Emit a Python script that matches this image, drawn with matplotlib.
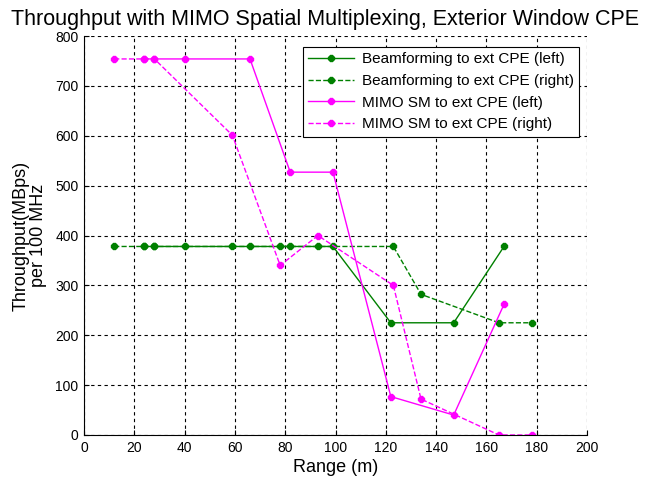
import matplotlib.pyplot as plt

plt.rcParams['font.family'] = ['Liberation Sans', 'DejaVu Sans']

# ranges (m)
x_left = [24, 28, 40, 66, 82, 99, 122, 147, 167]
x_right = [12, 24, 28, 59, 78, 93, 123, 134, 165, 178]

# throughput (MBps per 100 MHz)
bf_left = [378, 378, 378, 378, 378, 378, 225, 225, 378]
bf_right = [378, 378, 378, 378, 378, 378, 378, 282, 225, 225]
sm_left = [754, 754, 754, 754, 527, 527, 77, 40, 262]
sm_right = [754, 754, 754, 601, 340, 400, 300, 72, 0, 0]

green = '#008000'
magenta = '#ff00ff'

fig = plt.figure(figsize=(6.52, 4.83), dpi=100)
ax = fig.add_axes([84 / 652, 48 / 483, 503 / 652, 399 / 483])

ax.plot(x_left, bf_left, '-', color=green, marker='8', ms=5, lw=1,
        label='Beamforming to ext CPE (left)')
ax.plot(x_right, bf_right, '--', color=green, marker='8', ms=5, lw=1,
        label='Beamforming to ext CPE (right)')
ax.plot(x_left, sm_left, '-', color=magenta, marker='8', ms=5, lw=1,
        label='MIMO SM to ext CPE (left)')
ax.plot(x_right, sm_right, '--', color=magenta, marker='8', ms=5, lw=1,
        label='MIMO SM to ext CPE (right)')

ax.set_xlim(0, 200)
ax.set_ylim(0, 800)
ax.set_xticks(range(0, 201, 20))
ax.set_yticks(range(0, 801, 100))
ax.grid(True, linestyle=(0, (3, 3)), color='black', lw=0.8)
ax.spines['top'].set_visible(False)
ax.spines['right'].set_visible(False)
ax.tick_params(direction='in', labelsize=10, pad=4)

ax.set_title('Throughput with MIMO Spatial Multiplexing, Exterior Window CPE',
             fontsize=15.5, loc='left', x=-0.145, pad=8)
ax.set_xlabel('Range (m)', fontsize=13, labelpad=3)
ax.set_ylabel('Throughput(MBps)\nper 100 MHz', fontsize=13, labelpad=6,
              linespacing=1.0)

leg = ax.legend(loc='upper left', bbox_to_anchor=(219 / 503, 1 - 11 / 399),
                fontsize=11, fancybox=False, borderaxespad=0,
                edgecolor='black', framealpha=1,
                handlelength=3.0, labelspacing=0.5, handletextpad=0.5,
                borderpad=0.35)
leg.get_frame().set_linewidth(0.8)

fig.savefig('out.png', dpi=100)
